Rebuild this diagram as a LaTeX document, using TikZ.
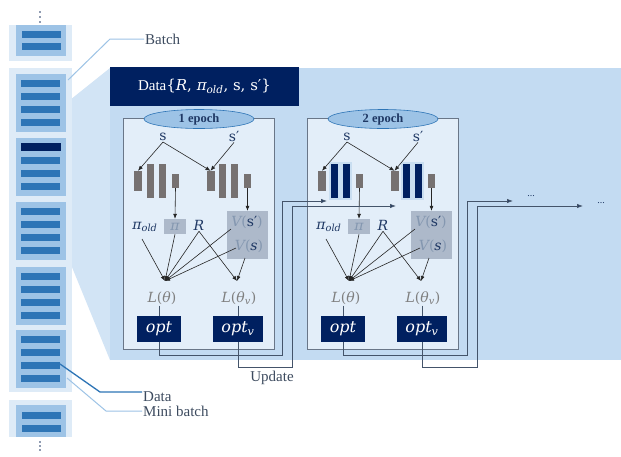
\documentclass[tikz,border=0pt]{standalone}
\usepackage{fontspec}
\setmainfont{Liberation Serif}
\newfontfamily\mfont{DejaVu Serif}
\usetikzlibrary{arrows.meta,shapes.geometric}

% formula-style lettering
\newcommand\mi[1]{{\mfont\itshape #1}}
\newcommand\mr[1]{{\mfont #1}}
\newcommand\msub[1]{\textsubscript{\mfont\itshape #1}}

\definecolor{navy}{HTML}{002060}
\definecolor{inknavy}{HTML}{1F3864}
\definecolor{barblue}{HTML}{2E75B6}
\definecolor{midblue}{HTML}{9DC3E6}
\definecolor{paleblue}{HTML}{DEEBF7}
\definecolor{panelblue}{HTML}{C3DBF2}
\definecolor{boxfill}{HTML}{E3EEF9}
\definecolor{slate}{HTML}{44546A}
\definecolor{netgray}{HTML}{767171}
\definecolor{valbox}{HTML}{ADB9CA}
\definecolor{lossgray}{HTML}{7F7F7F}
\definecolor{soft}{HTML}{8497B0}

\tikzset{
  txt/.style={inner sep=1pt, font=\fontsize{15}{18}\selectfont},
  ftxt/.style={inner sep=1pt, font=\fontsize{14}{17}\selectfont},
  epochframe/.style={draw=slate!80, fill=boxfill, line width=0.7pt},
  epochtag/.style={ellipse, draw=barblue, fill=midblue, line width=0.6pt,
    minimum width=110pt, minimum height=19pt, inner sep=0pt, text=inknavy,
    font=\fontsize{12.5}{14}\selectfont\bfseries},
  stxt/.style={ftxt, text=inknavy},
  netin/.style={rectangle, fill=netgray, minimum width=8pt, minimum height=20pt, inner sep=0pt},
  netout/.style={netin, minimum width=7pt, minimum height=14pt},
  hidgray/.style={rectangle, fill=netgray, minimum width=7pt, minimum height=34pt, inner sep=0pt},
  hidnavy/.style={hidgray, fill=navy},
  hidgrayframe/.style={},
  hidnavyframe/.style={fill=midblue!55},
  valuebox/.style={rectangle, fill=valbox, inner sep=0pt},
  losstxt/.style={ftxt, text=lossgray},
  optbox/.style={rectangle, fill=navy, text=white, minimum height=26pt, inner sep=0pt,
    font=\fontsize{16}{18}\selectfont},
  feed/.style={draw=black!85, line width=0.6pt, -{Latex[length=5pt,width=4pt]}},
  link/.style={draw=slate, line width=0.6pt},
  upd/.style={draw=slate, line width=0.8pt},
  updtip/.style={upd, -{Latex[length=6pt,width=4.5pt,fill=inknavy]}},
  colbg/.style={fill=paleblue},
  blockbg/.style={fill=midblue},
  rowbar/.style={fill=barblue},
  rowbardark/.style={fill=navy},
  leadlight/.style={draw=midblue, line width=1pt},
  leaddark/.style={draw=barblue, line width=1.3pt},
  sidetxt/.style={txt, text=slate!90!black, anchor=west},
  dot/.style={circle, fill=inknavy, minimum size=1.6pt, inner sep=0pt},
}

% one training epoch: #1 horizontal shift, #2 name suffix, #3 epoch number, #4 hidden-layer style
\newcommand\EpochPanel[4]{%
\begin{scope}[shift={(#1,0)}]
  \draw[epochframe] (123,118) rectangle (274,349);
  \node[epochtag] (ep#2) at (199,119) {#3 epoch};
  \node[stxt] (s#2) at (163,137) {\mr{s}};
  \node[stxt] (sp#2) at (234,136) {\mr{s′}};
  % policy network
  \path[#4frame] (145,162) rectangle (168,200);
  \node[netin] (pa#2) at (138,181) {};
  \node[#4] (pb#2) at (150.5,181) {};
  \node[#4] (pc#2) at (162,181) {};
  \node[netout] (pd#2) at (175.5,181) {};
  % value network
  \path[#4frame] (217,162) rectangle (240,200);
  \node[netin] (va#2) at (210.5,181) {};
  \node[#4] (vb#2) at (222.5,181) {};
  \node[#4] (vc#2) at (234,181) {};
  \node[netout] (vd#2) at (247.5,181) {};
  \draw[feed] (s#2.south) -- (pa#2.north);
  \draw[feed] (s#2.south) -- (va#2.north);
  \draw[feed] (sp#2.south) -- (va#2.north);
  % network outputs
  \node[valuebox, minimum width=22pt, minimum height=15pt, text=soft,
    font=\fontsize{14}{17}\selectfont] (pi#2) at (175,226.5) {\mi{π}};
  \node[valuebox, minimum width=41pt, minimum height=48pt] (vbox#2) at (247.5,235) {};
  \node[ftxt] (vsp#2) at (247,222) {\textcolor{soft}{\mi{V}\mr{(}}\textcolor{inknavy}{\mr{s′}}\textcolor{soft}{\mr{)}}};
  \node[ftxt] (vs#2) at (249,246) {\textcolor{soft}{\mi{V}\mr{(}}\textcolor{inknavy}{\mi{s}}\textcolor{soft}{\mr{)}}};
  \node[stxt] (pold#2) at (145,227) {\mi{π}\msub{old}};
  \node[stxt] (r#2) at (199,225) {\mi{R}};
  \draw[feed] (pd#2.south) -- (pi#2.north);
  \draw[feed] (vd#2.south) -- (vbox#2.north);
  % loss terms
  \coordinate (j#2) at (165,281);
  \coordinate (jv#2) at (237,281);
  \draw[feed] (142,239) -- (j#2);
  \draw[feed] (pi#2.south) -- (j#2);
  \draw[feed] (r#2.south) -- (j#2);
  \draw[feed] (231,229) -- (j#2);
  \draw[feed] (236,248) -- (j#2);
  \draw[feed] (r#2.south) -- (jv#2);
  \draw[feed] (245,258) -- (jv#2);
  \node[losstxt] (l#2) at (162,298) {\mi{L}\mr{(}\mi{θ}\mr{)}};
  \node[losstxt] (lv#2) at (239,298) {\mi{L}\mr{(}\mi{θ}\msub{v}\mr{)}};
  \node[optbox, minimum width=44pt] (opt#2) at (159,329) {\mi{opt}};
  \node[optbox, minimum width=50pt] (optv#2) at (238,329) {\mi{opt}\msub{v}};
  \draw[link] (opt#2.north |- l#2.south) -- (opt#2.north);
  \draw[link] (optv#2.north |- lv#2.south) -- (optv#2.north);
\end{scope}}

\begin{document}
\begin{tikzpicture}[x=1pt, y=-1pt]
\useasboundingbox (0,0) rectangle (621,456);
\fill[white] (0,0) rectangle (621,456);

% widening band from the chosen batch to the data panel
\fill[panelblue!75!white] (110,68) -- (20,140) -- (110,360) -- cycle;

% main data panel
\fill[panelblue] (110,68) rectangle (621,360);
\node[rectangle, fill=navy, minimum width=189pt, minimum height=39pt, inner sep=0pt,
  text=white, font=\fontsize{15}{18}\selectfont] (head) at (204.5,86.5)
  {Data\mr{\{}\mi{R}\mr{, }\mi{π}\msub{old}\mr{, s, s′\}}};

% batch column
\foreach \y [count=\i] in {12,17,22} \node[dot] (dt\i) at (40,\y) {};
\fill[colbg] (9,25) rectangle (72,61);
\fill[blockbg] (16,25) rectangle (66,56);
\fill[rowbar] (22,31) rectangle (61,37.5);
\fill[rowbar] (22,43) rectangle (61,49.5);

\fill[colbg] (9,68) rectangle (72,392);
\foreach \t in {74,138,202,267,330} {
  \fill[blockbg] (16,\t) rectangle (66,\t+58);
  \foreach \d in {6,19,32,45} \fill[rowbar] (21,\t+\d) rectangle (60,\t+\d+6.5);
}
\fill[rowbardark] (21,143) rectangle (61,151);

\fill[colbg] (9,400) rectangle (72,437);
\fill[blockbg] (16,405) rectangle (66,437);
\fill[rowbar] (22,412) rectangle (61,418.5);
\fill[rowbar] (22,425) rectangle (61,431.5);
\foreach \y [count=\i] in {442,446,450} \node[dot] (db\i) at (40,\y) {};

% labels of the batch column
\node[sidetxt] (batch) at (144,39) {Batch};
\node[sidetxt] (datal) at (142,397) {Data};
\node[sidetxt] (mini) at (142,411) {Mini batch};
\coordinate (batchpt) at (68,80);
\coordinate (rowpt) at (60,364);
\coordinate (minipt) at (67,378);
\draw[leadlight] (batch.west) -- (110,39) -- (batchpt);
\draw[leaddark] (rowpt) -- (100,392) -- (datal.west |- 0,392);
\draw[leadlight] (minipt) -- (106,411) -- (mini.west);

% the two epochs
\EpochPanel{0}{1}{1}{hidgray}
\EpochPanel{184}{2}{2}{hidnavy}

% parameter updates
\coordinate (u1) at (327,201);
\coordinate (u2) at (396,206);
\coordinate (u3) at (513,201);
\coordinate (u4) at (583,206);
\draw[updtip] (opt1.south) |- (282,355) -- (282,201) -- (u1);
\draw[updtip] (optv1.south) |- (292,367) -- (292,206) -- (u2);
\draw[updtip] (opt2.south) |- (467,355) -- (467,201) -- (u3);
\draw[updtip] (optv2.south) |- (477,367) -- (477,206) -- (u4);
\node[txt, text=inknavy, font=\fontsize{10}{10}\selectfont] (more1) at (531,196) {...};
\node[txt, text=inknavy, font=\fontsize{10}{10}\selectfont] (more2) at (601,203) {...};
\node[txt, text=slate!90!black] (update) at (272,378) {Update};
\end{tikzpicture}
\end{document}
